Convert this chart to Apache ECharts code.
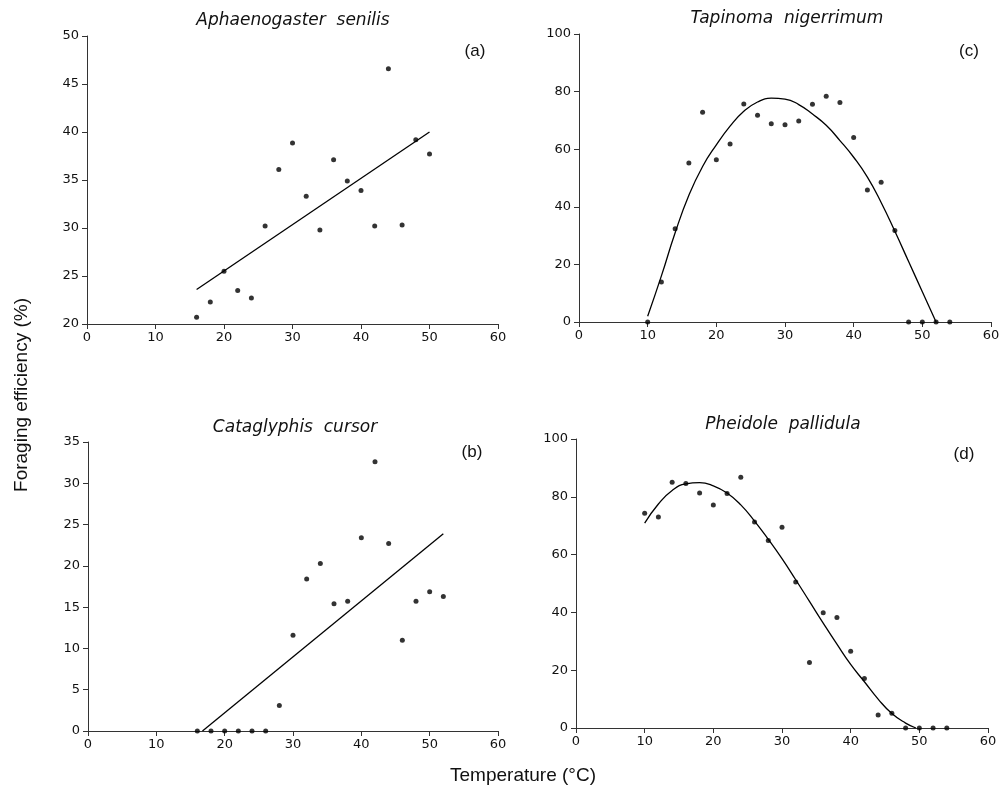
<!DOCTYPE html>
<html lang="en">
<head>
<meta charset="UTF-8">
<title>Foraging efficiency</title>
<script src="https://cdn.jsdelivr.net/npm/echarts@6/dist/echarts.min.js"></script>
<style>body{margin:0;background:#fff}</style>
</head>
<body>
<div id="main" style="width:1006px;height:797px"></div>
<script>
  // (a) Aphaenogaster senilis
  var tempA = [16,18,20,22,24,26,28,30,32,34,36,38,40,42,44,46,48,50];
  var effA = [20.7,22.3,25.5,23.5,22.7,30.2,36.1,38.85,33.3,29.8,37.1,34.9,33.9,30.2,46.6,30.3,39.2,37.7];
  var fitAx = [16,50];
  var fitAy = [23.6,40.0];

  // (b) Cataglyphis cursor
  var tempB = [16,18,20,22,24,26,28,30,32,34,36,38,40,42,44,46,48,50,52];
  var effB = [0,0,0,0,0,0,3.1,11.6,18.4,20.3,15.4,15.7,23.4,32.6,22.7,11.0,15.7,16.85,16.3];
  var fitBx = [16.75,52];
  var fitBy = [0,23.9];

  // (c) Tapinoma nigerrimum
  var tempC = [10,12,14,16,18,20,22,24,26,28,30,32,34,36,38,40,42,44,46,48,50,52,54];
  var effC = [0,13.9,32.4,55.2,72.8,56.3,61.8,75.7,71.8,68.8,68.5,69.8,75.6,78.4,76.2,64.1,45.8,48.5,31.8,0,0,0,0];
  var fitCx = [10,12,14,16,18,20,22,24,26,28,30,32,34,36,38,40,42,44,46,48,50,52];
  var fitCy = [2,16,31,44,54,61.5,68,73.2,76.4,77.7,77.4,75.5,72.2,68.3,63,57.2,50.3,41.5,31.5,21,10.5,0];

  // (d) Pheidole pallidula
  var tempD = [10,12,14,16,18,20,22,24,26,28,30,32,34,36,38,40,42,44,46,48,50,52,54];
  var effD = [74.3,73.0,85.0,84.6,81.3,77.2,81.1,86.8,71.3,64.9,69.5,50.5,22.7,39.9,38.2,26.6,17.1,4.5,5.1,0,0,0,0];
  var fitDx = [10,12,14,16,18,20,22,24,26,28,30,32,34,36,38,40,42,44,46,48,49.5];
  var fitDy = [70.9,77.5,82.2,84.5,84.9,83.8,81.3,77.2,71.6,65.3,58.6,51.3,43.8,36.3,29,22,16,10,5,1.7,0];

  var titles = ['Aphaenogaster  senilis','Cataglyphis  cursor','Tapinoma  nigerrimum','Pheidole  pallidula'];
  var tags = ['(a)','(b)','(c)','(d)'];

  function pairs(xs, ys){
    return xs.map(function(x,i){ return [x, ys[i]]; });
  }

  var axisColor = '#333';

  function xAx(i){
    return {
      type:'value', gridIndex:i, min:0, max:60, interval:10,
      axisLine:{show:true, onZero:false, lineStyle:{color:axisColor,width:1}},
      axisTick:{show:true, length:5, lineStyle:{color:axisColor}},
      axisLabel:{color:'#111', fontSize:13, fontFamily:'DejaVu Sans', margin:7},
      splitLine:{show:false}
    };
  }
  function yAx(i, mn, mx, step){
    return {
      type:'value', gridIndex:i, min:mn, max:mx, interval:step,
      axisLine:{show:true, onZero:false, lineStyle:{color:axisColor,width:1}},
      axisTick:{show:true, length:5, lineStyle:{color:axisColor}},
      axisLabel:{color:'#111', fontSize:13, fontFamily:'DejaVu Sans', margin:8},
      splitLine:{show:false}
    };
  }
  function dots(i, xs, ys){
    return {type:'scatter', xAxisIndex:i, yAxisIndex:i, data:pairs(xs,ys),
      symbolSize:5, itemStyle:{color:'#000'}, z:3};
  }
  function fit(i, xs, ys, smooth){
    return {type:'line', xAxisIndex:i, yAxisIndex:i, data:pairs(xs,ys),
      showSymbol:false, smooth:smooth, lineStyle:{color:'#000',width:1.3}, z:2};
  }

  function label(x, y, text, font, rot){
    return {type:'text', x:x, y:y, rotation:rot || 0,
      style:{text:text, font:font, fill:'#111', textAlign:'center', textVerticalAlign:'middle'}};
  }

  var titleFont = 'italic 17px "DejaVu Sans"';
  var tagFont = '17px "Liberation Sans"';

  var chart = echarts.init(document.getElementById('main'));
  chart.setOption({
    backgroundColor:'#fff',
    animation:false,
    grid:[
      {left:87, top:36, width:411, height:288},
      {left:88, top:442, width:410, height:289},
      {left:579, top:34, width:412, height:288},
      {left:576, top:439, width:412, height:289}
    ],
    xAxis:[xAx(0), xAx(1), xAx(2), xAx(3)],
    yAxis:[yAx(0,20,50,5), yAx(1,0,35,5), yAx(2,0,100,20), yAx(3,0,100,20)],
    series:[
      dots(0, tempA, effA), fit(0, fitAx, fitAy, false),
      dots(1, tempB, effB), fit(1, fitBx, fitBy, false),
      dots(2, tempC, effC), fit(2, fitCx, fitCy, 0.5),
      dots(3, tempD, effD), fit(3, fitDx, fitDy, 0.5)
    ],
    graphic:[
      label(293, 21, titles[0], titleFont),
      label(295, 428, titles[1], titleFont),
      label(787, 19, titles[2], titleFont),
      label(783, 425, titles[3], titleFont),
      label(475, 51, tags[0], tagFont),
      label(472, 452, tags[1], tagFont),
      label(969, 51, tags[2], tagFont),
      label(964, 454, tags[3], tagFont),
      label(523, 776, 'Temperature (°C)', '19px "Liberation Sans"'),
      label(22, 395, 'Foraging efficiency (%)', '19px "Liberation Sans"', Math.PI/2)
    ]
  });
</script>
</body>
</html>
